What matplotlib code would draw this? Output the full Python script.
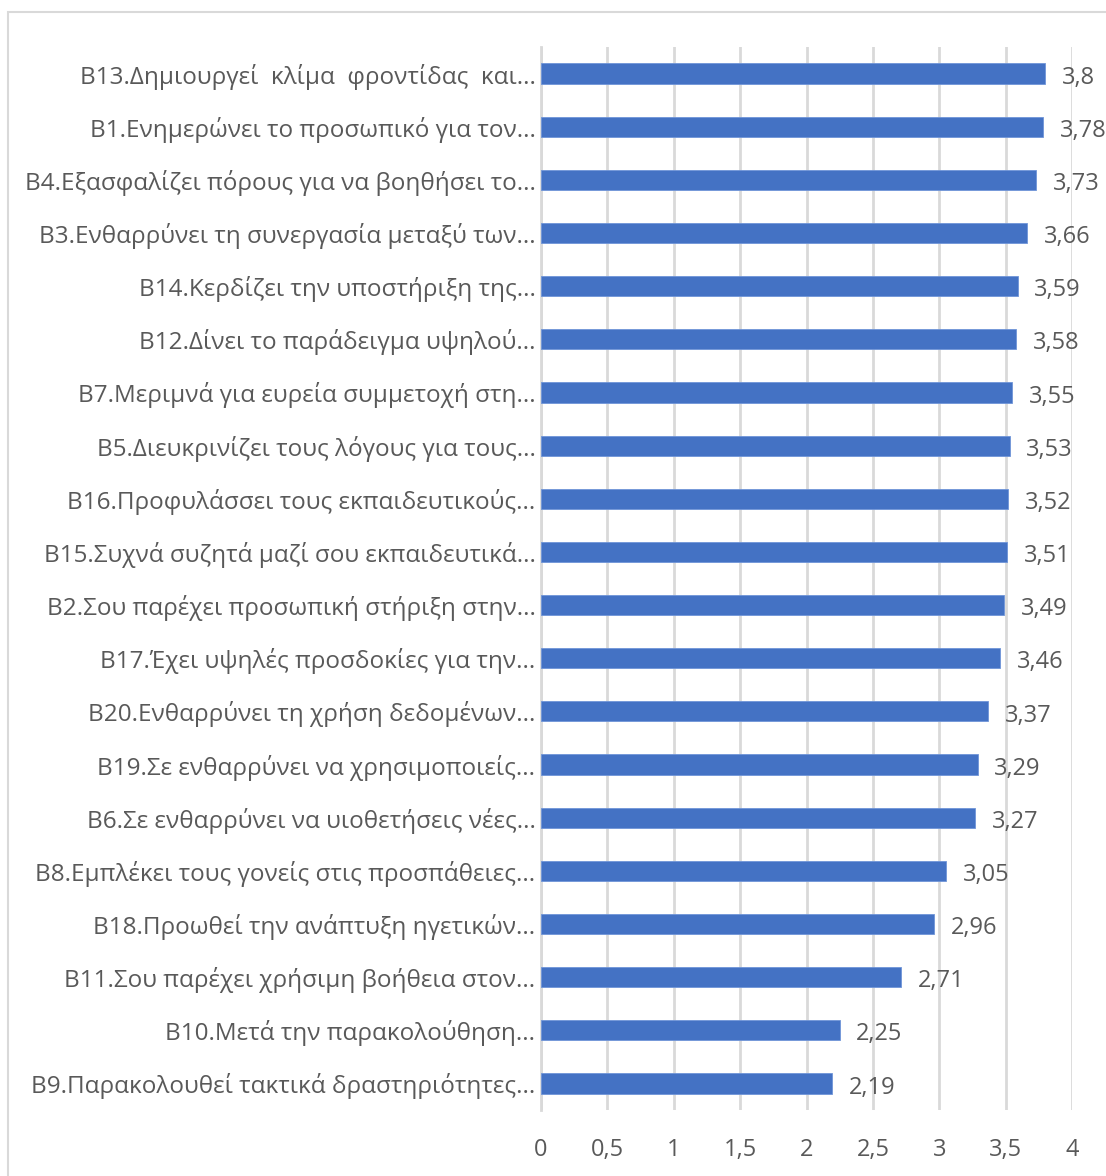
import matplotlib.pyplot as plt
from matplotlib.patches import Rectangle
from matplotlib.ticker import FuncFormatter

labels = [
    'B13.Δημιουργεί  κλίμα  φροντίδας  και...',
    'B1.Ενημερώνει το προσωπικό για τον...',
    'B4.Εξασφαλίζει πόρους για να βοηθήσει το...',
    'B3.Ενθαρρύνει τη συνεργασία μεταξύ των...',
    'B14.Κερδίζει την υποστήριξη της...',
    'B12.Δίνει το παράδειγμα υψηλού...',
    'B7.Μεριμνά για ευρεία συμμετοχή στη...',
    'B5.Διευκρινίζει τους λόγους για τους...',
    'B16.Προφυλάσσει τους εκπαιδευτικούς...',
    'B15.Συχνά συζητά μαζί σου εκπαιδευτικά...',
    'B2.Σου παρέχει προσωπική στήριξη στην...',
    'B17.Έχει υψηλές προσδοκίες για την...',
    'B20.Ενθαρρύνει τη χρήση δεδομένων...',
    'B19.Σε ενθαρρύνει να χρησιμοποιείς...',
    'B6.Σε ενθαρρύνει να υιοθετήσεις νέες...',
    'B8.Εμπλέκει τους γονείς στις προσπάθειες...',
    'B18.Προωθεί την ανάπτυξη ηγετικών...',
    'B11.Σου παρέχει χρήσιμη βοήθεια στον...',
    'B10.Μετά την παρακολούθηση...',
    'B9.Παρακολουθεί τακτικά δραστηριότητες...',
]
values = [3.8, 3.78, 3.73, 3.66, 3.59, 3.58, 3.55, 3.53, 3.52, 3.51,
          3.49, 3.46, 3.37, 3.29, 3.27, 3.05, 2.96, 2.71, 2.25, 2.19]

plt.rcParams['font.family'] = ['Open Sans', 'DejaVu Sans']
txt = '#595959'

fig = plt.figure(figsize=(11.06, 11.76), dpi=100)
# chart border like the Excel chart area
fig.patches.append(Rectangle((8 / 1106, -0.01), 1.1, 1 - 12 / 1176 + 0.01,
                             transform=fig.transFigure, fill=False,
                             edgecolor='#d9d9d9', linewidth=1.5))
ax = fig.add_axes([541 / 1106, 1 - 1110 / 1176, (1072 - 541) / 1106, (1110 - 47) / 1176])

y = list(range(len(labels)))
bars = ax.barh(y, values, height=0.38, color='#4472C4', edgecolor='#6f95d8', linewidth=0.6, zorder=3)

ax.set_xlim(0, 4)
ax.set_ylim(len(labels) - 0.5, -0.5)
ax.set_xticks([0, 0.5, 1, 1.5, 2, 2.5, 3, 3.5, 4])
ax.xaxis.set_major_formatter(FuncFormatter(lambda v, p: ('%g' % v).replace('.', ',')))
ax.set_yticks(y, labels)
ax.tick_params(axis='both', length=0, colors=txt, labelsize=17)
ax.tick_params(axis='y', labelsize=17.5, pad=4)
ax.tick_params(axis='x', pad=20)
ax.grid(axis='x', color='#d9d9d9', linewidth=2, zorder=0)
for s in ['top', 'right', 'bottom']:
    ax.spines[s].set_visible(False)
ax.spines['left'].set_color('#d9d9d9')
ax.spines['left'].set_linewidth(2)

# value labels to the right of each bar
for yi, v in zip(y, values):
    ax.annotate(('%g' % v).replace('.', ','), (v, yi), xytext=(12, -3),
                textcoords='offset points', va='center', ha='left',
                color=txt, fontsize=17, annotation_clip=False)

plt.savefig('out.png', dpi=100)
